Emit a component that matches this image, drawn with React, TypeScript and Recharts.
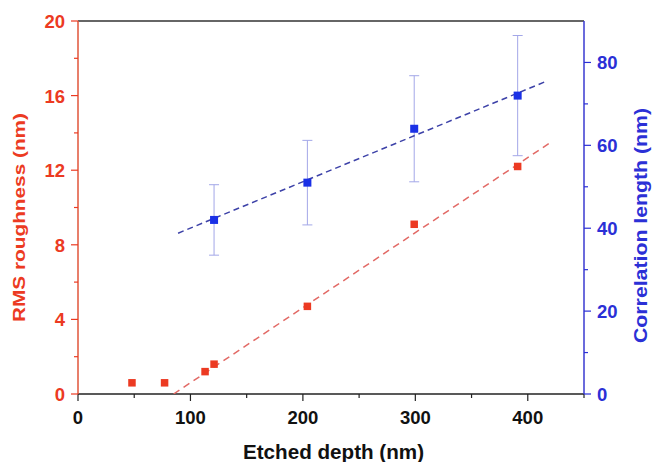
import React from 'react';
import { ComposedChart, Scatter, XAxis, YAxis, ErrorBar, ReferenceLine } from 'recharts';

// Data
const rmsDepth = [48, 77, 113, 121, 204, 299, 391];
const rmsValues = [0.6, 0.6, 1.2, 1.6, 4.7, 9.1, 12.2];
const corrDepth = [121, 204, 299, 391];
const corrValues = [42, 51, 64, 72];
const corrErrors = [8.5, 10.2, 12.8, 14.5];
const rmsFitX = [85, 420.5];
const rmsFitY = [0, 13.5];
const corrFitX = [89, 416];
const corrFitY = [38.8, 75.4];
const xTicks = [0, 50, 100, 150, 200, 250, 300, 350, 400, 450];
const leftTicks = [0, 2, 4, 6, 8, 10, 12, 14, 16, 18, 20];
const rightTicks = [0, 10, 20, 30, 40, 50, 60, 70, 80];

const rmsData = rmsDepth.map((x, i) => ({ x, y: rmsValues[i] }));
const corrData = corrDepth.map((x, i) => ({ x, y: corrValues[i], err: corrErrors[i] }));
const rmsFit = rmsFitX.map((x, i) => ({ x, y: rmsFitY[i] }));
const corrFit = corrFitX.map((x, i) => ({ x, y: corrFitY[i] }));

const FONT = '"Liberation Sans", Arial, Helvetica, sans-serif';
const RED = '#ec3a22';
const BLUE = '#2b30d6';

const XTick = (props: any) => {
  const { x, y, payload } = props;
  const major = payload.value % 100 === 0;
  return (
    <g>
      <line x1={x} x2={x} y1={y} y2={y + (major ? 7 : 4)} stroke="#222" strokeWidth={1.2} />
      {major && (
        <text x={x} y={y + 30} textAnchor="middle" fontSize={18.5} fontWeight="bold" fill="#111" fontFamily={FONT}>
          {payload.value}
        </text>
      )}
    </g>
  );
};

const LeftTick = (props: any) => {
  const { x, y, payload } = props;
  const major = payload.value % 4 === 0;
  return (
    <g>
      <line x1={x - (major ? 7 : 4)} x2={x} y1={y} y2={y} stroke={RED} strokeWidth={1.2} />
      {major && (
        <text x={x - 13} y={y + 7} textAnchor="end" fontSize={18.5} fontWeight="bold" fill={RED} fontFamily={FONT}>
          {payload.value}
        </text>
      )}
    </g>
  );
};

const RightTick = (props: any) => {
  const { x, y, payload } = props;
  const major = payload.value % 20 === 0;
  return (
    <g>
      <line x1={x} x2={x + (major ? 7 : 4)} y1={y} y2={y} stroke={BLUE} strokeWidth={1.2} />
      {major && (
        <text x={x + 13} y={y + 7} textAnchor="start" fontSize={18.5} fontWeight="bold" fill={BLUE} fontFamily={FONT}>
          {payload.value}
        </text>
      )}
    </g>
  );
};

const Square = (size: number, fill: string) => (props: any) => {
  const { cx, cy } = props;
  if (cx == null || cy == null) return <g />;
  return <rect x={cx - size / 2} y={cy - size / 2} width={size} height={size} fill={fill} />;
};

const NoShape = () => <g />;

export default function App() {
  return (
    <div style={{ position: 'absolute', left: 0, top: 0, background: '#fff' }}>
      <ComposedChart width={654} height={462} margin={{ top: 21, right: 10, bottom: 28, left: 18 }}>
        <XAxis
          xAxisId="x"
          type="number"
          dataKey="x"
          domain={[0, 450]}
          ticks={xTicks}
          interval={0}
          allowDataOverflow
          tickLine={false}
          tickSize={0}
          tickMargin={0}
          tick={XTick}
          height={40}
          axisLine={{ stroke: '#222', strokeWidth: 1.5 }}
          label={{
            content: (p: any) => {
              const vb = p.viewBox;
              return (
                <text x={vb.x + vb.width / 2 + 2.5} y={vb.y + 65} textAnchor="middle" fontSize={20} fontWeight="bold" fill="#111" fontFamily={FONT} textLength={181} lengthAdjust="spacingAndGlyphs">
                  Etched depth (nm)
                </text>
              );
            },
          }}
        />
        <YAxis
          yAxisId="left"
          orientation="left"
          type="number"
          dataKey="y"
          domain={[0, 20]}
          ticks={leftTicks}
          interval={0}
          allowDataOverflow
          tickLine={false}
          tickSize={0}
          tickMargin={0}
          tick={LeftTick}
          width={60}
          axisLine={{ stroke: '#e0553a', strokeWidth: 1.5 }}
          label={{
            content: (p: any) => {
              const vb = p.viewBox;
              const cx = vb.x + 7;
              const cy = vb.y + vb.height / 2 + 10;
              return (
                <text x={cx} y={cy} transform={`rotate(-90 ${cx} ${cy})`} textAnchor="middle" fontSize={17} fontWeight="bold" fill={RED} fontFamily={FONT} textLength={209} lengthAdjust="spacingAndGlyphs">
                  RMS roughness (nm)
                </text>
              );
            },
          }}
        />
        <YAxis
          yAxisId="right"
          orientation="right"
          type="number"
          dataKey="y"
          domain={[0, 90]}
          ticks={rightTicks}
          interval={0}
          allowDataOverflow
          tickLine={false}
          tickSize={0}
          tickMargin={0}
          tick={RightTick}
          width={60}
          axisLine={{ stroke: '#3a3ad0', strokeWidth: 1.5 }}
          label={{
            content: (p: any) => {
              const vb = p.viewBox;
              const cx = vb.x + 63;
              const cy = vb.y + vb.height / 2 + 18;
              return (
                <text x={cx} y={cy} transform={`rotate(-90 ${cx} ${cy})`} textAnchor="middle" fontSize={17.5} fontWeight="bold" fill={BLUE} fontFamily={FONT} textLength={235} lengthAdjust="spacingAndGlyphs">
                  Correlation length (nm)
                </text>
              );
            },
          }}
        />
        <ReferenceLine yAxisId="left" xAxisId="x" y={20} stroke="#333" strokeWidth={1.5} />
        <Scatter
          xAxisId="x"
          yAxisId="left"
          data={rmsFit}
          line={{ stroke: '#e26a66', strokeWidth: 1.5, strokeDasharray: '7 5' }}
          shape={NoShape}
          isAnimationActive={false}
        />
        <Scatter
          xAxisId="x"
          yAxisId="right"
          data={corrFit}
          line={{ stroke: '#3d42a8', strokeWidth: 1.5, strokeDasharray: '6 4' }}
          shape={NoShape}
          isAnimationActive={false}
        />
        <Scatter
          xAxisId="x"
          yAxisId="right"
          data={corrData}
          shape={Square(8, '#1a30e6')}
          isAnimationActive={false}
        >
          <ErrorBar dataKey="err" direction="y" width={5} stroke="#a3a7e8" strokeWidth={1} />
        </Scatter>
        <Scatter
          xAxisId="x"
          yAxisId="left"
          data={rmsData}
          shape={Square(7.5, RED)}
          isAnimationActive={false}
        />
      </ComposedChart>
    </div>
  );
}
